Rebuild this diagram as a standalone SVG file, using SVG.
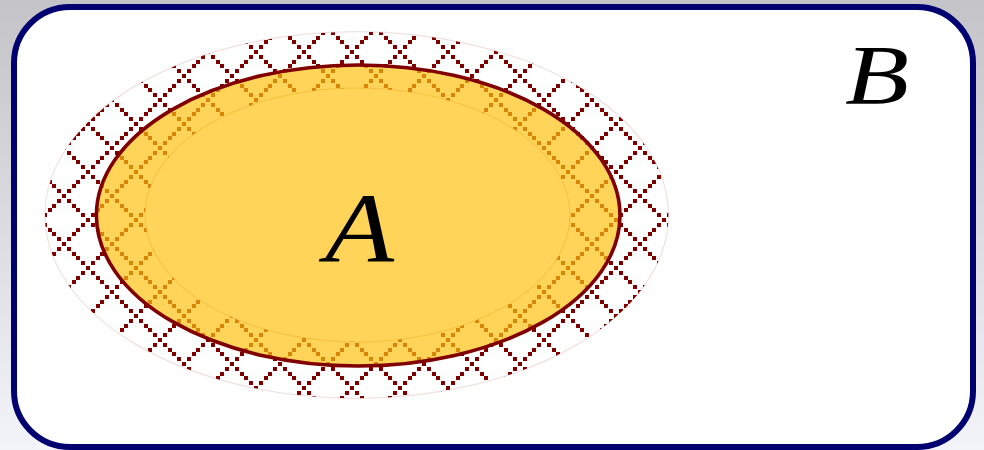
<svg xmlns="http://www.w3.org/2000/svg" width="984" height="450" viewBox="0 0 984 450">
  <defs>
    <linearGradient id="bg" x1="0" y1="0" x2="0" y2="1">
      <stop offset="0" stop-color="#c3c3c8"/>
      <stop offset="1" stop-color="#f3f3fa"/>
    </linearGradient>
    <pattern id="hatch" patternUnits="userSpaceOnUse" x="16" y="4" width="48" height="48">
      <g fill="#800000" shape-rendering="crispEdges">
        <rect x="-2" y="-2" width="4" height="4"/>
        <rect x="46" y="-2" width="4" height="4"/>
        <rect x="-2" y="46" width="4" height="4"/>
        <rect x="46" y="46" width="4" height="4"/>
        <rect x="3" y="3" width="4" height="4"/>
        <rect x="8" y="8" width="4" height="4"/>
        <rect x="12" y="12" width="4" height="4"/>
        <rect x="17" y="17" width="4" height="4"/>
        <rect x="22" y="22" width="4" height="4"/>
        <rect x="27" y="27" width="4" height="4"/>
        <rect x="32" y="32" width="4" height="4"/>
        <rect x="36" y="36" width="4" height="4"/>
        <rect x="41" y="41" width="4" height="4"/>
        <rect x="3" y="41" width="4" height="4"/>
        <rect x="8" y="36" width="4" height="4"/>
        <rect x="12" y="32" width="4" height="4"/>
        <rect x="17" y="27" width="4" height="4"/>
        <rect x="27" y="17" width="4" height="4"/>
        <rect x="32" y="12" width="4" height="4"/>
        <rect x="36" y="8" width="4" height="4"/>
        <rect x="41" y="3" width="4" height="4"/>
      </g>
    </pattern>
  </defs>
  <style>
    .lbl { font-family: "Liberation Serif", "DejaVu Serif", serif; font-style: italic; fill: #000; }
  </style>

  <rect id="background" x="0" y="0" width="984" height="450" fill="url(#bg)"/>

  <g id="setB">
    <rect x="14" y="7" width="959" height="440" rx="56" ry="56" fill="#ffffff" stroke="#000070" stroke-width="6"/>
    <text class="lbl" x="845" y="104" font-size="84" textLength="64" lengthAdjust="spacingAndGlyphs">B</text>
  </g>

  <g id="setA">
    <path d="M 45 215 a 311.7 183.3 0 1 0 623.4 0 a 311.7 183.3 0 1 0 -623.4 0 Z M 145 215 a 212.5 127 0 1 0 425 0 a 212.5 127 0 1 0 -425 0 Z" fill="url(#hatch)" fill-rule="evenodd" stroke="#800000" stroke-opacity="0.12" stroke-width="1.2"/>
    <ellipse cx="358.2" cy="215.5" rx="261.8" ry="150.5" fill="#ffc00f" fill-opacity="0.69"/>
    <ellipse cx="357.5" cy="215" rx="212.5" ry="127" fill="none" stroke="#d98a00" stroke-opacity="0.15" stroke-width="1"/>
    <ellipse cx="358.2" cy="215.5" rx="261.8" ry="150.5" fill="none" stroke="#800000" stroke-width="3.6"/>
    <text class="lbl" x="325" y="262" font-size="100" textLength="69" lengthAdjust="spacingAndGlyphs">A</text>
  </g>
</svg>
